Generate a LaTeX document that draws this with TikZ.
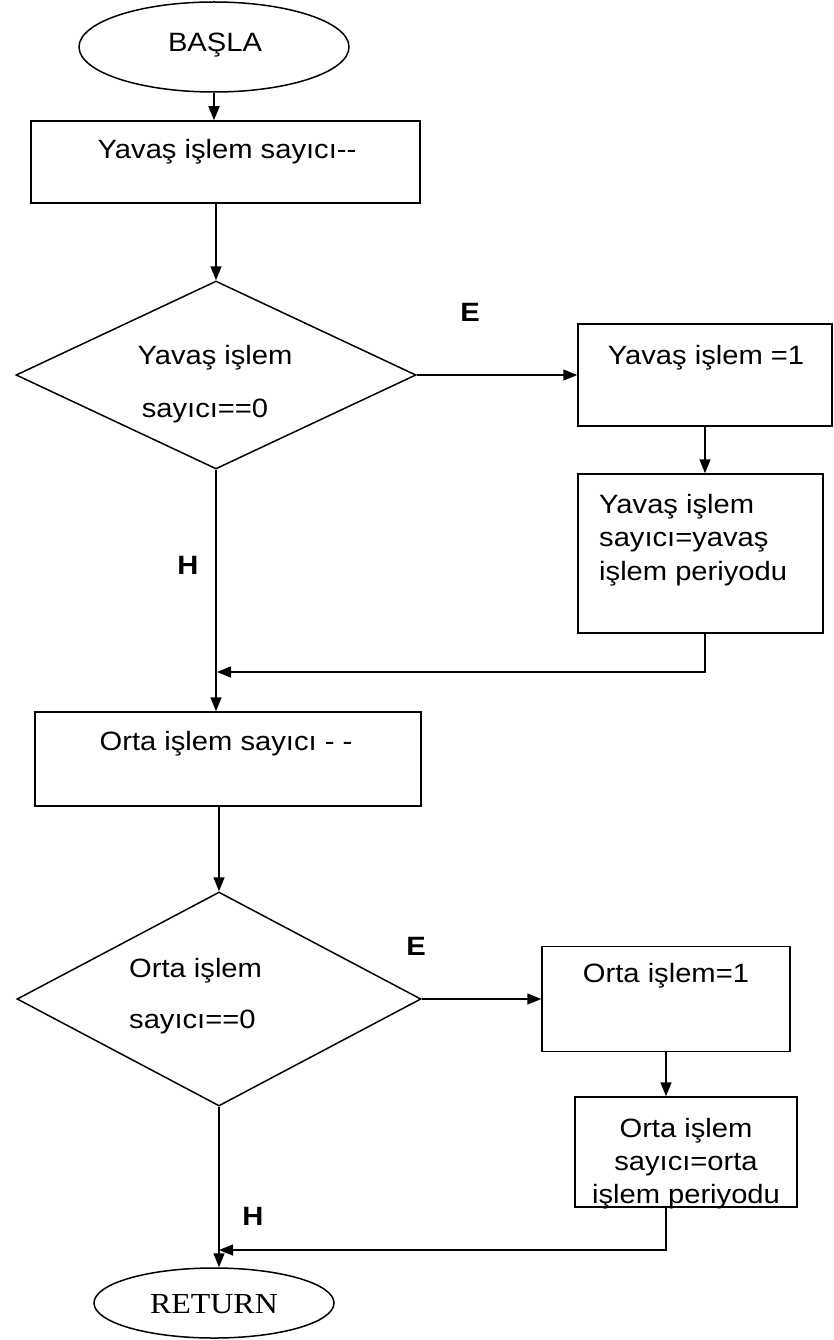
\documentclass[tikz,border=0pt]{standalone}
\usepackage{fontspec}
\setmainfont{Liberation Sans}[FakeStretch=1.1]
\newfontfamily\retfont{Liberation Serif}[FakeStretch=1.1]
\usetikzlibrary{shapes.geometric,arrows.meta}
\begin{document}
\begin{tikzpicture}[x=1pt,y=-1pt,
  outline/.style={draw, line width=1.5pt, inner sep=0pt},
  box/.style={outline, rectangle},
  oval/.style={outline, ellipse},
  decision/.style={outline, diamond},
  lbl/.style={anchor=base, inner sep=0pt, font=\fontsize{26.5}{33}\selectfont},
  lbll/.style={lbl, anchor=base west},
  tag/.style={lbl, font=\fontsize{26.5}{33}\selectfont\bfseries},
  flow/.style={line width=1.5pt, -{Triangle[length=14pt,width=11pt]}}]
\useasboundingbox (0,0) rectangle (834,1340);

% shapes
\node[oval, minimum width=270, minimum height=90] (start) at (214,47) {};
\node[box, minimum width=389, minimum height=82] (b1) at (225.5,162) {};
\node[decision, minimum width=400, minimum height=188] (d1) at (216,375) {};
\node[box, minimum width=254, minimum height=102] (b2) at (705,375) {};
\node[box, minimum width=245, minimum height=159] (b3) at (700.5,553.5) {};
\node[box, minimum width=386, minimum height=94] (b4) at (228,759) {};
\node[decision, minimum width=404, minimum height=214] (d2) at (219,999) {};
\node[box, minimum width=248, minimum height=105] (b5) at (666,999) {};
\node[box, minimum width=222, minimum height=110] (b6) at (686,1152) {};
\node[oval, minimum width=240, minimum height=70] (ret) at (214,1303) {};

% texts
\node[lbl] (tstart) at (215,52) {BAŞLA};
\node[lbl] (t1) at (227,159) {Yavaş işlem sayıcı-{}-};
\node[lbl] (td1a) at (215,364) {Yavaş işlem};
\node[lbl] (td1b) at (205,417) {sayıcı==0};
\node[lbl] (t2) at (706,364) {Yavaş işlem =1};
\node[lbll] (t3a) at (599,513) {Yavaş işlem};
\node[lbll] (t3b) at (599,546.5) {sayıcı=yavaş};
\node[lbll] (t3c) at (599,580) {işlem periyodu};
\node[lbl] (t4) at (226,750) {Orta işlem sayıcı - -};
\node[lbll] (td2a) at (129,977) {Orta işlem};
\node[lbll] (td2b) at (129,1028) {sayıcı==0};
\node[lbl] (t5) at (666,982) {Orta işlem=1};
\node[lbl] (t6a) at (686,1137) {Orta işlem};
\node[lbl] (t6b) at (686,1170) {sayıcı=orta};
\node[lbl] (t6c) at (686,1203) {işlem periyodu};
\node[anchor=base, inner sep=0pt, font=\retfont\fontsize{29}{33}\selectfont] (tret) at (214,1313) {RETURN};

% branch labels
\node[tag] (e1) at (470,321) {E};
\node[tag] (h1) at (188,574) {H};
\node[tag] (e2) at (416,955) {E};
\node[tag] (h2) at (253,1225) {H};

% junction points on the main line
\coordinate (j1) at (217,672);
\coordinate (j2) at (219,1250);

% connectors
\draw[flow] (start.south) -- (start.south |- b1.north);
\draw[flow] (d1.north |- b1.south) -- (d1.north);
\draw[flow] (d1.east) -- (b2.west |- d1.east);
\draw[flow] (b2.south) -- (b2.south |- b3.north);
\draw[flow] (b3.south -| b2.south) |- (j1);
\draw[flow] (d1.south) -- (d1.south |- b4.north);
\draw[flow] (d2.north |- b4.south) -- (d2.north);
\draw[flow] (d2.east) -- (b5.west |- d2.east);
\draw[flow] (b5.south) -- (b5.south |- b6.north);
\draw[flow] (b6.south -| b5.south) |- (j2);
\draw[flow] (d2.south) -- (d2.south |- ret.north);
\end{tikzpicture}
\end{document}
